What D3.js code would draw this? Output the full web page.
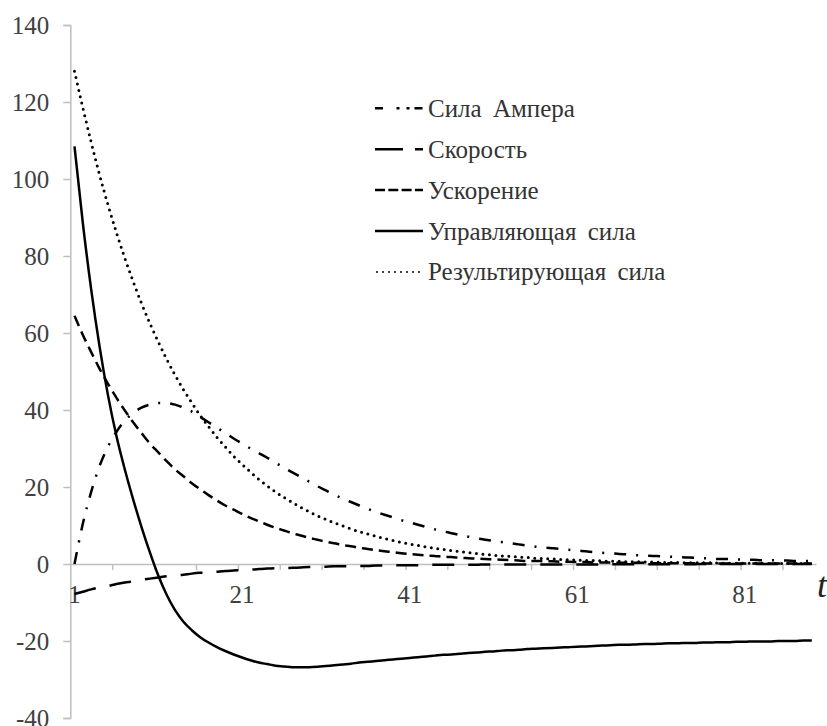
<!DOCTYPE html>
<html>
<head>
<meta charset="utf-8">
<script src="https://cdn.jsdelivr.net/npm/d3@7"></script>
<style>
  body { margin: 0; background: #fff; }
</style>
</head>
<body>
<div id="chart"></div>
<script>

// categories t = 1..89
const tValues = d3.range(1, 90);
const xLabels = [1, 21, 41, 61, 81];
const yTicks = [-40, -20, 0, 20, 40, 60, 80, 100, 120, 140];

// series
const ampere = [
    0, 10.5, 18.8, 25.5, 30.5, 34.3, 37.2, 39.2, 40.6, 41.4,
    41.8, 41.8, 41.4, 40.6, 39.6, 38.2, 36.8, 35.4, 34.0, 32.6,
    31.3, 30.0, 28.8, 27.6, 26.3, 25.0, 23.8, 22.6, 21.4, 20.2,
    19.1, 18.0, 17.0, 16.1, 15.2, 14.3, 13.5, 12.8, 12.1, 11.4,
    10.8, 10.2, 9.6, 9.0, 8.5, 8.0, 7.5, 7.1, 6.7, 6.3,
    6.0, 5.7, 5.4, 5.1, 4.8, 4.5, 4.3, 4.1, 3.9, 3.7,
    3.5, 3.3, 3.1, 2.9, 2.8, 2.6, 2.5, 2.3, 2.2, 2.1,
    2.0, 1.9, 1.8, 1.7, 1.6, 1.5, 1.4, 1.3, 1.3, 1.2,
    1.1, 1.1, 1.0, 1.0, 0.9, 0.9, 0.8, 0.8, 0.7
];

const velocity = [
    -7.8, -7.2, -6.6, -6.1, -5.7, -5.2, -4.8, -4.5, -4.1, -3.8,
    -3.5, -3.2, -3.0, -2.8, -2.5, -2.3, -2.2, -2.0, -1.8, -1.7,
    -1.6, -1.5, -1.3, -1.2, -1.1, -1.1, -1.0, -0.9, -0.8, -0.8,
    -0.7, -0.6, -0.6, -0.6, -0.5, -0.5, -0.4, -0.4, -0.4, -0.3,
    -0.3, -0.3, -0.3, -0.2, -0.2, -0.2, -0.2, -0.2, -0.2, -0.1,
    -0.1, -0.1, -0.1, -0.1, -0.1, -0.1, -0.1, -0.1, -0.1, -0.1,
    -0.1, -0.1, -0.1, -0.1, -0.1, -0.05, -0.05, -0.05, -0.05, -0.05,
    -0.05, -0.05, -0.05, -0.05, -0.05, 0, 0, 0, 0, 0,
    0, 0, 0, 0, 0, 0, 0, 0, 0
];

const acceleration = [
    64.5, 59.5, 55.0, 50.7, 46.8, 43.2, 39.9, 36.8, 34.0, 31.3,
    29.0, 26.7, 24.6, 22.8, 21.0, 19.4, 17.9, 16.5, 15.2, 14.1,
    13.0, 12.0, 11.1, 10.2, 9.4, 8.7, 8.0, 7.4, 6.8, 6.3,
    5.8, 5.4, 4.9, 4.6, 4.2, 3.9, 3.6, 3.3, 3.1, 2.8,
    2.6, 2.4, 2.2, 2.1, 1.9, 1.8, 1.6, 1.5, 1.4, 1.3,
    1.2, 1.1, 1.0, 0.9, 0.8, 0.8, 0.7, 0.7, 0.6, 0.6,
    0.5, 0.5, 0.4, 0.4, 0.4, 0.3, 0.3, 0.3, 0.3, 0.2,
    0.2, 0.2, 0.2, 0.2, 0.2, 0.1, 0.1, 0.1, 0.1, 0.1,
    0.1, 0.1, 0.1, 0.1, 0.1, 0.1, 0.1, 0.1, 0.1
];

const control = [
    108.5, 88.5, 71.2, 56.4, 43.8, 33.3, 24.6, 16.8, 9.6, 3.0,
    -3.0, -8.0, -12.0, -15.0, -17.2, -19.0, -20.4, -21.6, -22.6, -23.5,
    -24.3, -25.0, -25.6, -26.0, -26.4, -26.6, -26.8, -26.8, -26.8, -26.7,
    -26.5, -26.3, -26.1, -25.9, -25.6, -25.4, -25.2, -25.0, -24.8, -24.6,
    -24.4, -24.2, -24.0, -23.8, -23.6, -23.5, -23.3, -23.1, -23.0, -22.8,
    -22.7, -22.5, -22.4, -22.3, -22.1, -22.0, -21.9, -21.8, -21.7, -21.6,
    -21.5, -21.4, -21.3, -21.2, -21.1, -21.0, -21.0, -20.9, -20.8, -20.8,
    -20.7, -20.6, -20.6, -20.5, -20.5, -20.4, -20.4, -20.3, -20.3, -20.2,
    -20.2, -20.1, -20.1, -20.1, -20.0, -20.0, -20.0, -19.9, -19.9
];

const resultant = [
    128.0, 118.5, 109.5, 101.0, 93.3, 86.1, 79.5, 73.4, 67.7, 62.5,
    57.7, 53.2, 49.1, 45.3, 41.9, 38.6, 35.7, 32.9, 30.4, 28.0,
    25.9, 23.9, 22.0, 20.3, 18.7, 17.3, 16.0, 14.7, 13.6, 12.5,
    11.6, 10.7, 9.9, 9.1, 8.4, 7.8, 7.2, 6.6, 6.1, 5.6,
    5.2, 4.8, 4.4, 4.1, 3.8, 3.5, 3.2, 3.0, 2.7, 2.5,
    2.3, 2.1, 2.0, 1.8, 1.7, 1.5, 1.4, 1.3, 1.2, 1.1,
    1.0, 0.9, 0.9, 0.8, 0.7, 0.7, 0.6, 0.6, 0.5, 0.5,
    0.4, 0.4, 0.4, 0.3, 0.3, 0.3, 0.3, 0.2, 0.2, 0.2,
    0.2, 0.2, 0.2, 0.1, 0.1, 0.1, 0.1, 0.1, 0.1
];

const seriesNames = ["Сила Ампера", "Скорость", "Ускорение", "Управляющая сила", "Результирующая сила"];

const series = [
    {name: seriesNames[0], values: ampere,       dash: "12,10,2,10", legendDash: "8,13.5,3,7,3,5,8", width: 2.5, cap: "butt"},
    {name: seriesNames[1], values: velocity,     dash: "22,14",      legendDash: "28,12,8",          width: 2.5, cap: "butt"},
    {name: seriesNames[2], values: acceleration, dash: "11,6",       legendDash: "10,3.3",           width: 2.5, cap: "butt"},
    {name: seriesNames[3], values: control,      dash: null,         legendDash: null,               width: 2.5, cap: "butt"},
    {name: seriesNames[4], values: resultant,    dash: "0,6.5",      legendDash: "0,6",              width: 3,   cap: "round"}
];

const width = 827, height = 726;
const serif = "'Liberation Serif'";

const svg = d3.select("#chart").append("svg")
    .attr("width", width)
    .attr("height", height);

// category axis, series drawn between tick marks
const x = d3.scaleLinear().domain([0.5, 89.5]).range([70.3, 816]);
const y = d3.scaleLinear().domain([-40, 140]).range([718, 25]);

const axisColor = "#bfbfbf";
const labelColor = "#404040";

// y axis
const yAxis = svg.append("g")
    .attr("transform", `translate(${x(0.5)},0)`)
    .call(d3.axisLeft(y).tickValues(yTicks).tickSize(7).tickPadding(14).tickFormat(d => String(d)));
yAxis.select(".domain").attr("stroke", axisColor).attr("stroke-width", 1.5);
yAxis.selectAll(".tick line").attr("stroke", axisColor).attr("stroke-width", 1.5);
yAxis.selectAll(".tick text")
    .style("font-family", serif)
    .style("font-size", "25px")
    .attr("fill", labelColor);

// x axis at y = 0
const xTickPos = d3.range(5.5, 89, 5);
const xAxis = svg.append("g")
    .attr("transform", `translate(0,${y(0)})`)
    .call(d3.axisBottom(x).tickValues(xTickPos).tickSize(6).tickSizeOuter(0).tickFormat(""));
xAxis.select(".domain").attr("stroke", axisColor).attr("stroke-width", 1.5);
xAxis.selectAll(".tick line").attr("stroke", axisColor).attr("stroke-width", 1.5);

svg.append("g").selectAll("text")
    .data(xLabels)
    .join("text")
    .attr("x", d => x(d))
    .attr("y", y(0) + 39)
    .attr("text-anchor", "middle")
    .style("font-family", serif)
    .style("font-size", "25px")
    .attr("fill", labelColor)
    .text(d => d);

svg.append("text")
    .attr("x", 817)
    .attr("y", 597)
    .style("font-family", serif)
    .style("font-size", "36px")
    .style("font-style", "italic")
    .attr("fill", "#222")
    .text("t");

// lines
const line = d3.line()
    .x((d, i) => x(tValues[i]))
    .y(d => y(d))
    .curve(d3.curveMonotoneX);

svg.append("g").selectAll("path")
    .data(series)
    .join("path")
    .attr("d", d => line(d.values))
    .attr("fill", "none")
    .attr("stroke", "#000")
    .attr("stroke-width", d => d.width)
    .attr("stroke-linecap", d => d.cap)
    .attr("stroke-dasharray", d => d.dash);

// legend
const legendX = 375, legendY = 108.3, legendStep = 40.9;
const legend = svg.append("g").selectAll("g")
    .data(series)
    .join("g")
    .attr("transform", (d, i) => `translate(${legendX},${legendY + i * legendStep})`);

legend.append("line")
    .attr("x1", d => d.cap === "round" ? 2 : 0)
    .attr("x2", 48)
    .attr("stroke", "#000")
    .attr("stroke-width", d => d.cap === "round" ? 2 : 2.5)
    .attr("stroke-linecap", d => d.cap)
    .attr("stroke-dasharray", d => d.legendDash);

legend.append("text")
    .attr("x", 53)
    .attr("y", 8.5)
    .style("font-family", serif)
    .style("font-size", "25px")
    .style("word-spacing", "5px")
    .attr("fill", "#333")
    .text(d => d.name);

</script>
</body>
</html>
